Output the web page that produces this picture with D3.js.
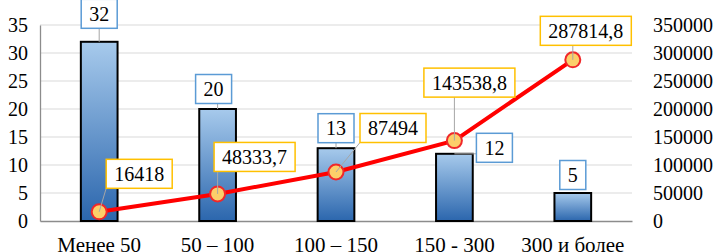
<!DOCTYPE html>
<html>
<head>
<meta charset="utf-8">
<script src="https://cdn.jsdelivr.net/npm/d3@7"></script>
</head>
<body style="margin:0; background:#fff">
<div class="canvas"></div>
<script>
// data
const categories = ['Менее 50', '50 – 100', '100 – 150', '150 - 300', '300 и более'];
const barValues = [32, 20, 13, 12, 5];
const lineValues = [16418, 48333.7, 87494, 143538.8, 287814.8];
const lineLabels = ['16418', '48333,7', '87494', '143538,8', '287814,8'];
const leftTicks = [0, 5, 10, 15, 20, 25, 30, 35];
const rightTicks = [0, 50000, 100000, 150000, 200000, 250000, 300000, 350000];

// label offsets (box centre relative to anchor), layout only
const barLabelOffset = [[0, -28], [-4, -20], [0, -20], [40, -6], [0, -18]];
const lineLabelOffset = [[40, -38], [37, -37], [57, -44], [15, -58], [13, -29]];

const serif = '"Liberation Serif", "Times New Roman", monospace';

const svgWidth = 715;
const svgHeight = 252;

const svg = d3.select('.canvas')
    .append('svg')
    .attr('width', svgWidth)
    .attr('height', svgHeight)
    .style('font-family', serif);

const plot = { left: 40, right: 632, top: 25, bottom: 221 };

const x = d3.scaleBand()
    .domain(categories)
    .range([plot.left, plot.right]);
const barWidth = x.bandwidth() * 0.31;
const cx = c => x(c) + x.bandwidth() / 2;

const yL = d3.scaleLinear().domain([0, 35]).range([plot.bottom, plot.top]);
const yR = d3.scaleLinear().domain([0, 350000]).range([plot.bottom, plot.top]);

// gradient for bars
const grad = svg.append('defs').append('linearGradient')
    .attr('id', 'barGrad')
    .attr('x1', 0).attr('y1', 0).attr('x2', 0).attr('y2', 1);
grad.append('stop').attr('offset', '0%').attr('stop-color', '#a7caec');
grad.append('stop').attr('offset', '100%').attr('stop-color', '#2b66ad');

// gridlines
svg.append('g')
    .selectAll('line')
    .data(leftTicks.slice(1))
    .enter().append('line')
    .attr('x1', plot.left).attr('x2', plot.right)
    .attr('y1', d => yL(d)).attr('y2', d => yL(d))
    .attr('stroke', '#d9d9d9')
    .attr('stroke-width', 1);

// axes
const yAxisLeft = d3.axisLeft(yL).tickValues(leftTicks).tickSize(0).tickPadding(12);
const yAxisRight = d3.axisRight(yR).tickValues(rightTicks).tickSize(0).tickPadding(21)
    .tickFormat(d3.format('d'));
const xAxis = d3.axisBottom(x).tickSize(0).tickPadding(16);

const leftG = svg.append('g')
    .attr('transform', `translate(${plot.left},0)`)
    .call(yAxisLeft);
const rightG = svg.append('g')
    .attr('transform', `translate(${plot.right},0)`)
    .call(yAxisRight);
const xG = svg.append('g')
    .attr('transform', `translate(0,${plot.bottom})`)
    .call(xAxis);

leftG.select('.domain').attr('stroke', '#8c8c8c').attr('stroke-width', 1.3);
rightG.select('.domain').remove();
xG.select('.domain').attr('stroke', '#8c8c8c').attr('stroke-width', 1.3);

[leftG, rightG, xG].forEach(g => {
    g.attr('font-family', null).attr('font-size', null);
    g.selectAll('text')
        .style('font-family', serif)
        .style('font-size', '20px')
        .attr('fill', '#000');
});
xG.selectAll('text').style('font-size', '21px');

// bars
svg.append('g')
    .selectAll('rect')
    .data(barValues)
    .enter().append('rect')
    .attr('x', (d, i) => cx(categories[i]) - barWidth / 2)
    .attr('y', d => yL(d))
    .attr('width', barWidth)
    .attr('height', d => plot.bottom - yL(d))
    .attr('fill', 'url(#barGrad)')
    .attr('stroke', '#000')
    .attr('stroke-width', 2);

// line
const line = d3.line()
    .x((d, i) => cx(categories[i]))
    .y(d => yR(d));

svg.append('path')
    .datum(lineValues)
    .attr('d', line)
    .attr('fill', 'none')
    .attr('stroke', '#ff0000')
    .attr('stroke-width', 4);

svg.append('g')
    .selectAll('circle')
    .data(lineValues)
    .enter().append('circle')
    .attr('cx', (d, i) => cx(categories[i]))
    .attr('cy', d => yR(d))
    .attr('r', 7.5)
    .attr('fill', '#fccf6a')
    .attr('stroke', '#f0282a')
    .attr('stroke-width', 2);

// data labels with leader lines
const labelLayer = svg.append('g');
const tmp = svg.append('text').style('font-size', '20px').style('font-family', serif);

function addLabel(text, ax, ay, off, border) {
    tmp.text(text);
    const tw = tmp.node().getComputedTextLength();
    const w = tw + 16, h = 29;
    const bx = ax + off[0], by = ay + off[1];
    // leader line from nearest box point to anchor
    const px = Math.max(bx - w / 2, Math.min(ax, bx + w / 2));
    const py = Math.max(by - h / 2, Math.min(ay, by + h / 2));
    if (Math.hypot(px - ax, py - ay) > 4) {
        labelLayer.append('line')
            .attr('x1', px).attr('y1', py)
            .attr('x2', ax).attr('y2', ay)
            .attr('stroke', '#a6a6a6')
            .attr('stroke-width', 1);
    }
    labelLayer.append('rect')
        .attr('x', bx - w / 2).attr('y', by - h / 2)
        .attr('width', w).attr('height', h)
        .attr('fill', '#fff')
        .attr('stroke', border)
        .attr('stroke-width', 1.5);
    labelLayer.append('text')
        .attr('x', bx).attr('y', by)
        .attr('dy', '0.35em')
        .attr('text-anchor', 'middle')
        .style('font-size', '20px')
        .style('font-family', serif)
        .attr('fill', '#000')
        .text(text);
}

barValues.forEach((v, i) => {
    addLabel(String(v), cx(categories[i]), yL(v), barLabelOffset[i], '#5b9bd5');
});
lineValues.forEach((v, i) => {
    addLabel(lineLabels[i], cx(categories[i]), yR(v), lineLabelOffset[i], '#ffc000');
});
tmp.remove();
</script>
</body>
</html>
